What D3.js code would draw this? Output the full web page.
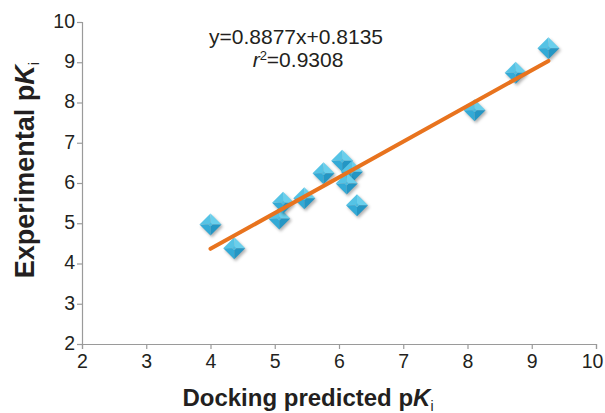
<!DOCTYPE html>
<html>
<head>
<meta charset="utf-8">
<script src="https://cdn.jsdelivr.net/npm/d3@7"></script>
<style>
  body { margin: 0; background: #fff; }
  text { font-family: "Liberation Sans", Arial, sans-serif; fill: #231f20; }
</style>
</head>
<body>
<div id="chart"></div>
<script>
// docking predicted vs experimental pKi
const predicted    = [4.00, 4.37, 5.07, 5.13, 5.46, 5.76, 6.05, 6.20, 6.12, 6.28, 8.11, 8.75, 9.26];
const experimental = [4.97, 4.38, 5.12, 5.51, 5.62, 6.24, 6.55, 6.28, 5.99, 5.45, 7.81, 8.74, 9.35];
const xTicks = [2, 3, 4, 5, 6, 7, 8, 9, 10];
const yTicks = [2, 3, 4, 5, 6, 7, 8, 9, 10];
const slope = 0.8877, intercept = 0.8135;
const eqLabel = "y=0.8877x+0.8135";
const r2Value = "=0.9308";

const width = 605, height = 413;
const svg = d3.select("#chart").append("svg")
  .attr("width", width).attr("height", height);

const x = d3.scaleLinear().domain([2, 10]).range([82, 596]);
const y = d3.scaleLinear().domain([2, 10]).range([344, 22]);

// axes
const xAxis = svg.append("g")
  .attr("transform", `translate(0,${y(2)})`)
  .call(d3.axisBottom(x).tickValues(xTicks).tickSize(5).tickPadding(5));
const yAxis = svg.append("g")
  .attr("transform", `translate(${x(2)},0)`)
  .call(d3.axisLeft(y).tickValues(yTicks).tickSize(5).tickPadding(2));

[xAxis, yAxis].forEach(g => {
  g.selectAll("path, line").attr("stroke", "#9a9a9a").attr("stroke-width", 1.2);
  g.selectAll("text").style("font-size", "19.5px").style("fill", "#231f20")
    .style("font-family", "Liberation Sans, Arial, sans-serif");
});
yAxis.selectAll("text").attr("dy", "0.28em");
// keep the last label inside the frame
xAxis.selectAll(".tick").filter(d => d === 10).select("text").attr("dx", -4);

// shadow + diamonds
const defs = svg.append("defs");
const blur = defs.append("filter").attr("id", "sh").attr("x", "-50%").attr("y", "-50%")
  .attr("width", "200%").attr("height", "200%");
blur.append("feGaussianBlur").attr("stdDeviation", 1.5);

const pts = predicted.map((v, i) => ({ px: v, ey: experimental[i] }));
const r = 11;

const marks = svg.append("g").selectAll("g")
  .data(pts)
  .join("g")
  .attr("transform", d => `translate(${x(d.px)},${y(d.ey)})`);

marks.append("path")
  .attr("d", `M0,${-r}L${r},0L0,${r}L${-r},0Z`)
  .attr("transform", "translate(1.5,2)")
  .attr("fill", "rgba(0,0,0,0.3)")
  .attr("filter", "url(#sh)");

const c = 2;
const facets = [
  { d: `M0,${-r}L${r},0L${c},0L0,${-c}Z`, fill: "#6acfec" },
  { d: `M0,${-r}L${-r},0L${-c},0L0,${-c}Z`, fill: "#55c3e5" },
  { d: `M${-r},0L0,${r}L0,${c}L${-c},0Z`, fill: "#33aad6" },
  { d: `M${r},0L0,${r}L0,${c}L${c},0Z`, fill: "#2496c4" },
  { d: `M0,${-c}L${c},0L0,${c}L${-c},0Z`, fill: "#48bce2" }
];
facets.forEach(f => {
  marks.append("path").attr("d", f.d).attr("fill", f.fill);
});

// regression line
const xr = d3.extent(predicted);
svg.append("line")
  .attr("x1", x(xr[0])).attr("y1", y(slope * xr[0] + intercept))
  .attr("x2", x(xr[1])).attr("y2", y(slope * xr[1] + intercept))
  .attr("stroke", "#e8731e").attr("stroke-width", 4).attr("stroke-linecap", "round");

// equation
svg.append("text").attr("x", 296).attr("y", 44).attr("text-anchor", "middle")
  .style("font-size", "21px").text(eqLabel);
const r2 = svg.append("text").attr("x", 298).attr("y", 67).attr("text-anchor", "middle")
  .style("font-size", "21px");
r2.append("tspan").style("font-style", "italic").text("r");
r2.append("tspan").style("font-size", "13px").attr("dy", -7).text("2");
r2.append("tspan").attr("dy", 7).text(r2Value);

// axis titles
const xt = svg.append("text").attr("x", 308).attr("y", 406).attr("text-anchor", "middle")
  .style("font-size", "24px").style("font-weight", "bold");
xt.append("tspan").text("Docking predicted p");
xt.append("tspan").style("font-style", "italic").text("K");
xt.append("tspan").style("font-size", "14px").style("font-weight", "normal").attr("dy", 5).text("i");

const yt = svg.append("text")
  .attr("transform", "translate(34,170) rotate(-90)")
  .attr("text-anchor", "middle")
  .style("font-size", "27px").style("font-weight", "bold");
yt.append("tspan").text("Experimental p");
yt.append("tspan").style("font-style", "italic").text("K");
yt.append("tspan").style("font-size", "15px").style("font-weight", "normal").attr("dy", 5).text("i");
</script>
</body>
</html>
